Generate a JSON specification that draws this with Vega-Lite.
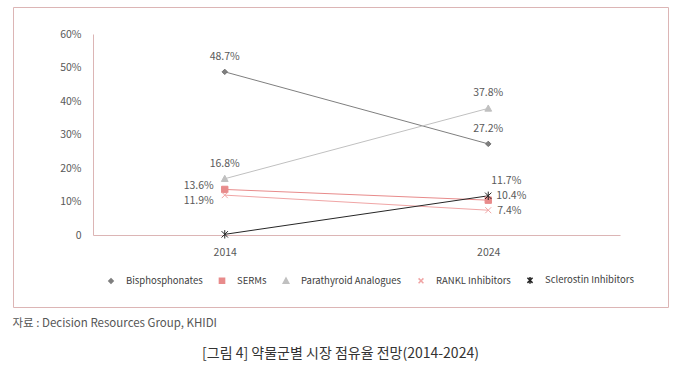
{
  "$schema": "https://vega.github.io/schema/vega-lite/v6.json",
  "width": 655,
  "height": 300,
  "autosize": {"type": "none"},
  "padding": {"left": 13, "top": 7, "right": 12, "bottom": 58},
  "background": "white",
  "config": {
    "font": "Noto Sans CJK KR",
    "view": {"stroke": "#dcb5b5", "strokeWidth": 1},
    "axis": {"grid": false, "ticks": false, "tickSize": 0, "domainColor": "#dcb5b5", "labelColor": "#595959", "labelFontSize": 10.5, "labelFont": "Noto Sans CJK KR"},
    "legend": {
      "title": null, "orient": "none", "legendX": 89, "legendY": 264, "direction": "horizontal",
      "symbolSize": 260, "labelFontSize": 9.5, "labelColor": "#404040",
      "columnPadding": 10, "labelOffset": 6, "padding": 0
    }
  },
  "data": {
    "values": [
      {"series": "Bisphosphonates", "year": "2014", "value": 0.487},
      {"series": "Bisphosphonates", "year": "2024", "value": 0.272},
      {"series": "SERMs", "year": "2014", "value": 0.136},
      {"series": "SERMs", "year": "2024", "value": 0.104},
      {"series": "Parathyroid Analogues", "year": "2014", "value": 0.168},
      {"series": "Parathyroid Analogues", "year": "2024", "value": 0.378},
      {"series": "RANKL Inhibitors", "year": "2014", "value": 0.119},
      {"series": "RANKL Inhibitors", "year": "2024", "value": 0.074},
      {"series": "Sclerostin Inhibitors", "year": "2014", "value": 0.002},
      {"series": "Sclerostin Inhibitors", "year": "2024", "value": 0.117}
    ]
  },
  "encoding": {
    "x": {
      "field": "year", "type": "ordinal",
      "scale": {"type": "point", "range": [80, 607], "padding": 0.5},
      "axis": {
        "title": "자료 : Decision Resources Group, KHIDI",
        "titleX": -1, "titleY": 88, "titleAlign": "left", "titleBaseline": "middle",
        "titleFontSize": 11.5, "titleFontWeight": "normal", "titleColor": "#555555",
        "offset": -72, "labelAngle": 0, "labelPadding": 12
      }
    },
    "y": {
      "field": "value", "type": "quantitative",
      "scale": {"domain": [0, 0.6], "range": [228, 27], "nice": false},
      "axis": {
        "title": "[그림 4] 약물군별 시장 점유율 전망(2014-2024)",
        "titleAngle": 0, "titleX": 247, "titleY": 346, "titleAlign": "center", "titleBaseline": "middle",
        "titleFontSize": 14, "titleFontWeight": "normal", "titleColor": "#333333",
        "offset": -80,
        "values": [0, 0.1, 0.2, 0.3, 0.4, 0.5, 0.6],
        "labelExpr": "datum.value == 0 ? '0' : format(datum.value, '.0%')",
        "labelPadding": 12
      }
    }
  },
  "layer": [
    {
      "mark": {"type": "line", "strokeWidth": 1},
      "encoding": {
        "color": {
          "field": "series", "type": "nominal",
          "scale": {
            "domain": ["Bisphosphonates", "SERMs", "Parathyroid Analogues", "RANKL Inhibitors", "Sclerostin Inhibitors"],
            "range": ["#7f7f7f", "#e88b8b", "#c0c0c0", "#f0a5a5", "#262626"]
          }
        }
      }
    },
    {
      "mark": {"type": "point", "filled": true, "size": 400, "strokeWidth": 1, "opacity": 1},
      "encoding": {
        "color": {
          "field": "series", "type": "nominal",
          "legend": {
            "encode": {
              "symbols": {
                "shape": {"value": {"expr": "'M-1,0L1,0' + scale('shape', datum.value)"}},
                "stroke": {"value": {"expr": "scale('color', datum.value)"}},
                "strokeWidth": {"value": 1}
              }
            }
          }
        },
        "shape": {
          "field": "series", "type": "nominal",
          "scale": {
            "domain": ["Bisphosphonates", "SERMs", "Parathyroid Analogues", "RANKL Inhibitors", "Sclerostin Inhibitors"],
            "range": [
              "M0,-0.27L0.27,0L0,0.27L-0.27,0Z",
              "M-0.32,-0.32L0.32,-0.32L0.32,0.32L-0.32,0.32Z",
              "M0,-0.34L0.34,0.28L-0.34,0.28Z",
              "M-0.3,-0.3L0.3,0.3M0.3,-0.3L-0.3,0.3",
              "M-0.32,-0.32L0.32,0.32M0.32,-0.32L-0.32,0.32M0,-0.42L0,0.42"
            ]
          }
        },
        "stroke": {
          "field": "series", "type": "nominal",
          "scale": {
            "domain": ["Bisphosphonates", "SERMs", "Parathyroid Analogues", "RANKL Inhibitors", "Sclerostin Inhibitors"],
            "range": ["#6f6f6f", "#e88b8b", "#c0c0c0", "#f0a5a5", "#262626"]
          },
          "legend": null
        }
      }
    },
    {
      "transform": [{"filter": "datum.series == 'Bisphosphonates' || datum.series == 'Parathyroid Analogues'"}],
      "mark": {"type": "text", "dy": -15, "fontSize": 10.5, "color": "#595959"},
      "encoding": {"text": {"field": "value", "type": "quantitative", "format": ".1%"}}
    },
    {
      "transform": [{"filter": "datum.series == 'Sclerostin Inhibitors' && datum.year == '2024'"}],
      "mark": {"type": "text", "dy": -15, "dx": 3, "align": "left", "fontSize": 10.5, "color": "#595959"},
      "encoding": {"text": {"field": "value", "type": "quantitative", "format": ".1%"}}
    },
    {
      "transform": [{"filter": "datum.series == 'SERMs' && datum.year == '2024'"}],
      "mark": {"type": "text", "dy": -4, "dx": 8, "align": "left", "fontSize": 10.5, "color": "#595959"},
      "encoding": {"text": {"field": "value", "type": "quantitative", "format": ".1%"}}
    },
    {
      "transform": [{"filter": "datum.series == 'RANKL Inhibitors' && datum.year == '2024'"}],
      "mark": {"type": "text", "dy": 1, "dx": 9, "align": "left", "fontSize": 10.5, "color": "#595959"},
      "encoding": {"text": {"field": "value", "type": "quantitative", "format": ".1%"}}
    },
    {
      "transform": [{"filter": "datum.series == 'SERMs' && datum.year == '2014'"}],
      "mark": {"type": "text", "dy": -3, "dx": -11, "align": "right", "fontSize": 10.5, "color": "#595959"},
      "encoding": {"text": {"field": "value", "type": "quantitative", "format": ".1%"}}
    },
    {
      "transform": [{"filter": "datum.series == 'RANKL Inhibitors' && datum.year == '2014'"}],
      "mark": {"type": "text", "dy": 6, "dx": -11, "align": "right", "fontSize": 10.5, "color": "#595959"},
      "encoding": {"text": {"field": "value", "type": "quantitative", "format": ".1%"}}
    }
  ]
}
